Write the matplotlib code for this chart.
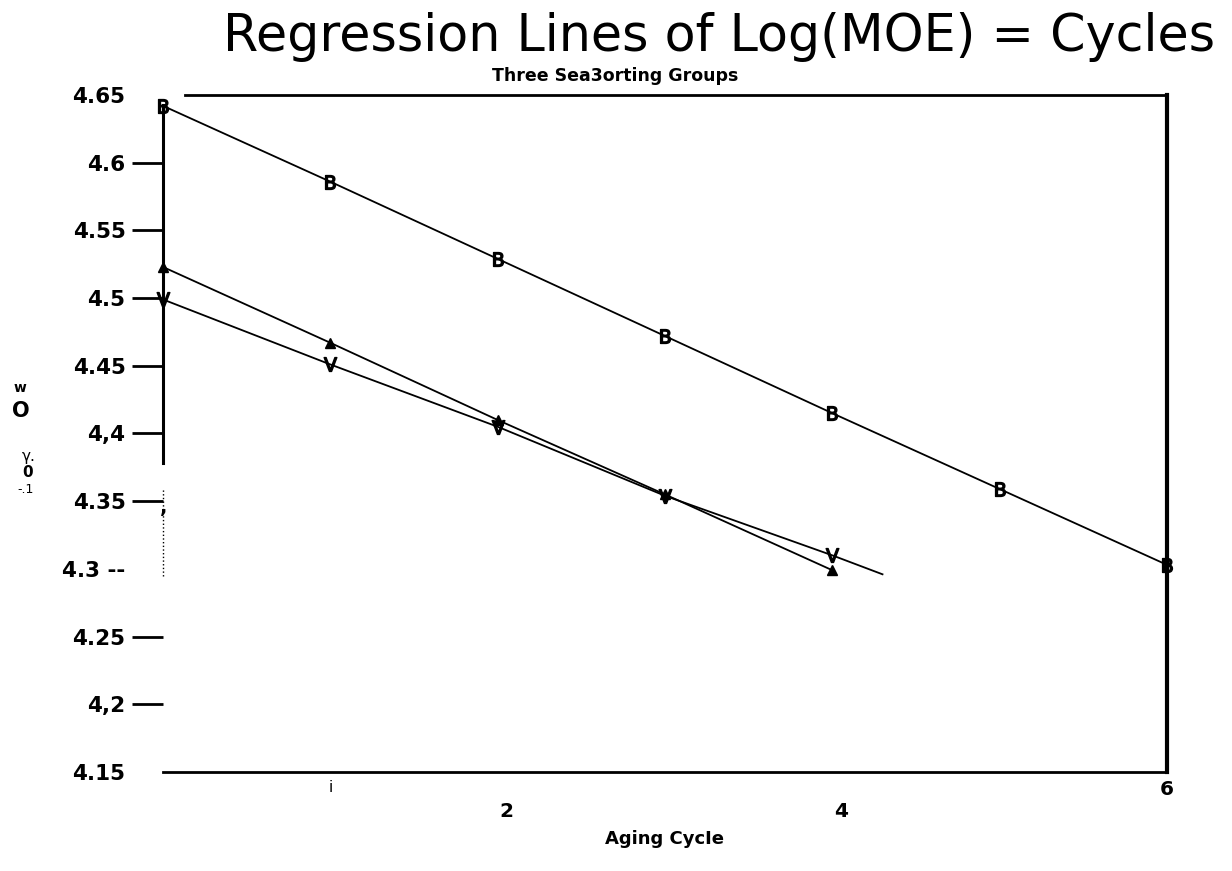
import matplotlib
matplotlib.use("Agg")
import matplotlib.pyplot as plt

# aging cycle vs log(MOE)
cycles_b = [0, 1, 2, 3, 4, 5, 6]
logmoe_b = [4.642, 4.586, 4.529, 4.472, 4.415, 4.359, 4.303]

cycles_a = [0, 1, 2, 3, 4]
logmoe_a = [4.523, 4.467, 4.410, 4.355, 4.299]

cycles_v = [0, 1, 2, 3, 4, 4.3]
logmoe_v = [4.499, 4.451, 4.405, 4.354, 4.310, 4.296]

ytick_vals = [4.65, 4.6, 4.55, 4.5, 4.45, 4.4, 4.35, 4.3, 4.25, 4.2, 4.15]
ytick_text = ["4.65", "4.6", "4.55", "4.5", "4.45", "4,4", "4.35", "4.3 --", "4.25", "4,2", "4.15"]
xtick_vals = [1, 2, 4, 6]
xtick_text = ["i", "2", "4", "6"]

plt.rcParams['font.family'] = ['DejaVu Sans']

fig = plt.figure(figsize=(12.32, 8.71), dpi=100)
ax = fig.add_axes([0.1323, 0.1137, 0.8149, 0.7772])
ax.set_xlim(0, 6)
ax.set_ylim(4.15, 4.65)

ax.plot(cycles_b, logmoe_b, color='black', lw=1.3, marker='$\\mathrm{B}$', ms=10,
        mfc='black', mec='black', clip_on=False, zorder=3)
ax.plot(cycles_a, logmoe_a, color='black', lw=1.3, marker='^', ms=7,
        mfc='black', mec='black', clip_on=False, zorder=3)
ax.plot(cycles_v, logmoe_v, color='black', lw=1.3, marker='$\\mathrm{V}$', ms=10,
        markevery=list(range(5)), mfc='black', mec='black', clip_on=False, zorder=3)

# hand drawn frame of the original scan
for s in ['left', 'top']:
    ax.spines[s].set_visible(False)
ax.spines['right'].set_linewidth(3)
ax.spines['bottom'].set_linewidth(2)
ax.axvline(0, ymin=0.457, ymax=0.985, color='black', lw=2.2, clip_on=False)
ax.axvline(0, ymin=0.29, ymax=0.42, color='black', lw=1, ls=':', clip_on=False)
ax.axhline(4.65, xmin=0.022, xmax=1.0, color='black', lw=2, clip_on=False)

ax.set_yticks(ytick_vals)
ax.set_yticklabels(ytick_text, fontsize=15.5, fontweight='bold')
ax.tick_params(axis='y', direction='out', length=22, width=2, pad=5)
for t in ax.yaxis.get_major_ticks():
    t.tick1line.set_markeredgewidth(2)
ticks = ax.yaxis.get_major_ticks()
ticks[0].tick1line.set_visible(False)
ticks[7].tick1line.set_visible(False)
ticks[-1].tick1line.set_visible(False)
ax.text(-0.02, 4.345, ",", fontsize=14, fontweight='bold', ha='left', va='center')

ax.set_xticks([])
for xv, lab in zip(xtick_vals, xtick_text):
    if lab == "i":
        ax.text(xv, -0.012, lab, transform=ax.get_xaxis_transform(), fontsize=11,
                ha='center', va='top')
    elif lab == "6":
        ax.text(xv, -0.012, lab, transform=ax.get_xaxis_transform(), fontsize=14.5,
                fontweight='bold', ha='center', va='top')
    else:
        ax.text(xv + 0.05, -0.045, lab, transform=ax.get_xaxis_transform(), fontsize=14.5,
                fontweight='bold', ha='center', va='top')

ax.set_xlabel("Aging CycIe", fontsize=13, fontweight='bold', labelpad=42)

fig.text(0.584, 0.958, "Regression Lines of Log(MOE) = Cycles", fontsize=36.5,
         ha='center', va='center')
fig.text(0.499, 0.913, "Three Sea3orting Groups", fontsize=12.5, fontweight='bold',
         ha='center', va='center')

# scanned y-axis label fragments
fig.text(0.0165, 0.555, "w", fontsize=10, fontweight='bold', ha='center', va='center')
fig.text(0.0165, 0.528, "O", fontsize=15, fontweight='bold', ha='center', va='center')
fig.text(0.0235, 0.476, "γ.", fontsize=11, ha='center', va='center')
fig.text(0.0225, 0.457, "0", fontsize=11, fontweight='bold', ha='center', va='center')
fig.text(0.021, 0.438, "-.1", fontsize=9, ha='center', va='center')

fig.savefig("out.png", dpi=100)
